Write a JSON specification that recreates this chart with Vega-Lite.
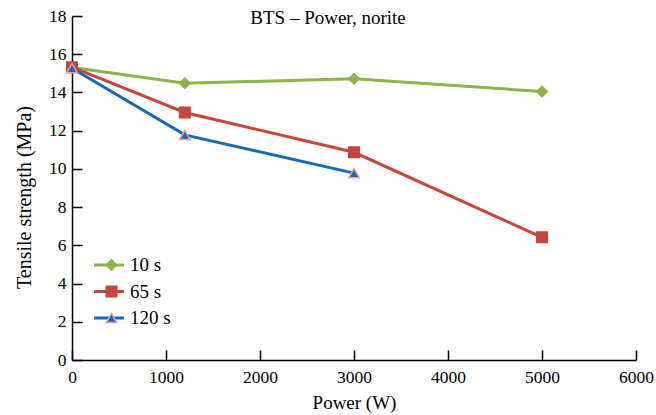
{
  "$schema": "https://vega.github.io/schema/vega-lite/v6.json",
  "autosize": {"type": "none"},
  "width": 564,
  "height": 344,
  "padding": {"left": 72, "top": 16, "right": 20, "bottom": 55},
  "background": "white",
  "title": {
    "text": "BTS – Power, norite",
    "font": "Liberation Serif",
    "fontSize": 19,
    "fontWeight": "normal",
    "color": "black",
    "anchor": "middle",
    "baseline": "bottom",
    "offset": -40,
    "dx": -26
  },
  "data": {
    "values": [
      {"power": 0, "strength": 15.3, "series": "10 s"},
      {"power": 1200, "strength": 14.48, "series": "10 s"},
      {"power": 3000, "strength": 14.72, "series": "10 s"},
      {"power": 5000, "strength": 14.05, "series": "10 s"},
      {"power": 0, "strength": 15.32, "series": "65 s"},
      {"power": 1200, "strength": 12.95, "series": "65 s"},
      {"power": 3000, "strength": 10.87, "series": "65 s"},
      {"power": 5000, "strength": 6.42, "series": "65 s"},
      {"power": 0, "strength": 15.27, "series": "120 s"},
      {"power": 1200, "strength": 11.78, "series": "120 s"},
      {"power": 3000, "strength": 9.78, "series": "120 s"}
    ]
  },
  "layer": [
    {
      "mark": {"type": "line", "strokeWidth": 3},
      "encoding": {
        "x": {
          "field": "power", "type": "quantitative",
          "scale": {"domain": [0, 6000], "nice": false},
          "axis": {"orient": "bottom", "values": [0, 1000, 2000, 3000, 4000, 5000, 6000], "format": "d", "title": "Power (W)", "ticks": false, "labelFlush": false, "labelPadding": 8, "titlePadding": 8}
        },
        "y": {
          "field": "strength", "type": "quantitative",
          "scale": {"domain": [0, 18], "nice": false},
          "axis": {"orient": "left", "values": [0, 2, 4, 6, 8, 10, 12, 14, 16, 18], "title": "Tensile strength (MPa)", "titleFontSize": 20, "ticks": false, "labelFlush": false, "labelPadding": 6, "titlePadding": 14, "titleY": 181}
        },
        "color": {
          "field": "series", "type": "nominal",
          "sort": ["10 s", "65 s", "120 s"],
          "scale": {"range": ["#8FB24A", "#C4463F", "#1669B5"]},
          "legend": {"orient": "none", "symbolType": "stroke", "symbolSize": 900, "symbolStrokeWidth": 3, "legendX": 20.5, "legendY": 237, "labelOffset": 4.5}
        }
      }
    },
    {
      "mark": {"type": "point", "filled": true, "size": 110, "strokeWidth": 1.5, "opacity": 1},
      "encoding": {
        "x": {
          "field": "power", "type": "quantitative",
          "axis": {"orient": "bottom", "values": [0, 1000, 2000, 3000, 4000, 5000, 6000], "offset": -10, "tickSize": 10, "domain": false, "labels": false, "title": null}
        },
        "y": {
          "field": "strength", "type": "quantitative",
          "axis": {"orient": "left", "values": [0, 2, 4, 6, 8, 10, 12, 14, 16, 18], "offset": -10, "tickSize": 10, "domain": false, "labels": false, "title": null}
        },
        "fill": {
          "field": "series", "type": "nominal",
          "scale": {"domain": ["10 s", "65 s", "120 s"], "range": ["#8FB24A", "#C4463F", "#1669B5"]},
          "legend": {"orient": "bottom-left", "offset": 30, "labelExpr": "''", "symbolSize": 110}
        },
        "stroke": {
          "field": "series", "type": "nominal",
          "scale": {"domain": ["10 s", "65 s", "120 s"], "range": ["#8FB24A", "#C4463F", "#E8A2A6"]},
          "legend": {"orient": "bottom-left", "offset": 30, "labelExpr": "''", "symbolSize": 110}
        },
        "shape": {
          "field": "series", "type": "nominal",
          "scale": {"domain": ["10 s", "65 s", "120 s"], "range": ["diamond", "square", "triangle-up"]},
          "legend": {"orient": "bottom-left", "offset": 30, "labelExpr": "''", "symbolSize": 110}
        }
      }
    }
  ],
  "resolve": {"axis": {"x": "independent", "y": "independent"}},
  "config": {
    "view": {"stroke": null},
    "axis": {
      "grid": false,
      "domainColor": "black",
      "domainWidth": 1.5,
      "tickColor": "black",
      "tickWidth": 1.5,
      "labelFont": "Liberation Serif",
      "labelFontSize": 17.5,
      "labelColor": "black",
      "titleFont": "Liberation Serif",
      "titleFontSize": 19,
      "titleFontWeight": "normal",
      "titleColor": "black"
    },
    "legend": {
      "title": null,
      "padding": 0,
      "labelFont": "Liberation Serif",
      "labelFontSize": 19,
      "labelColor": "black",
      "rowPadding": 2.5,
      "clipHeight": 24
    }
  }
}
